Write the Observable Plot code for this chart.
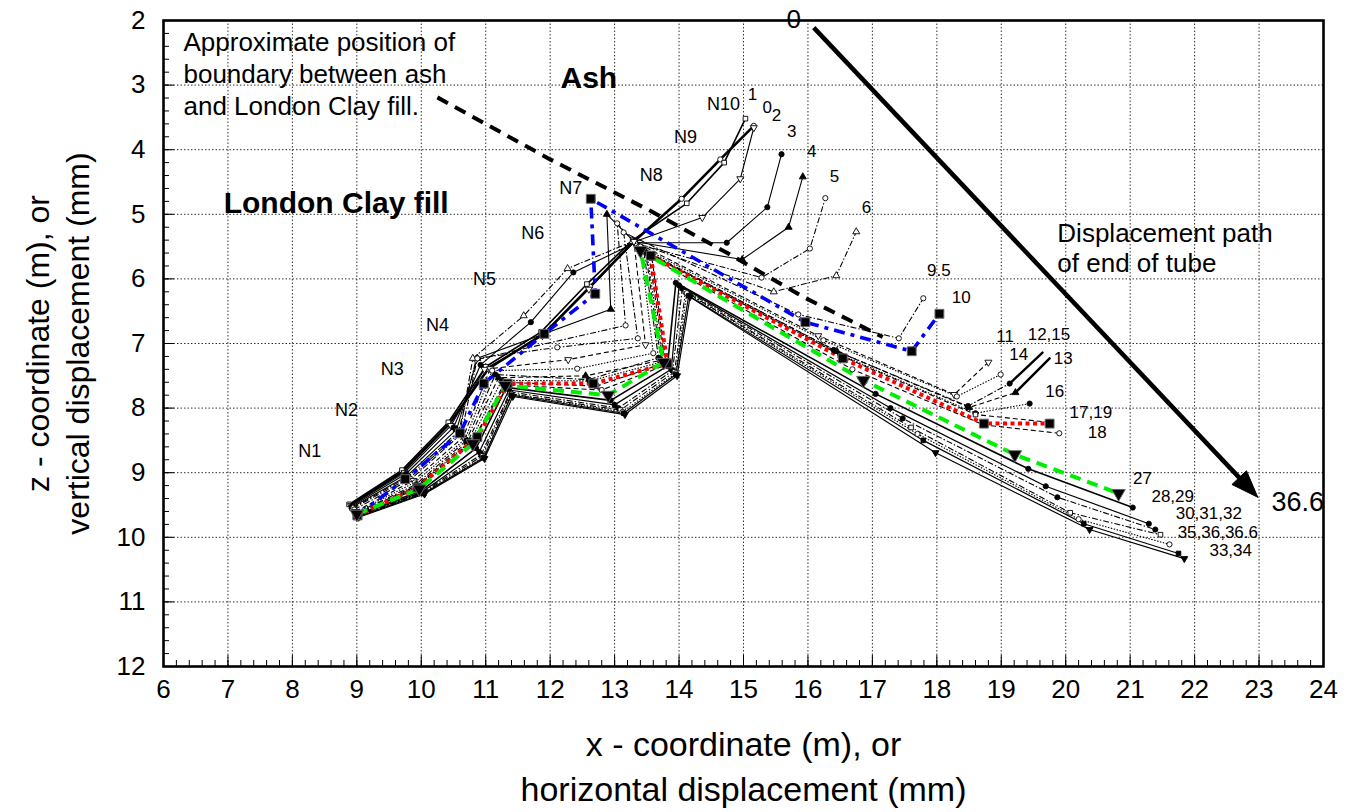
<!DOCTYPE html>
<html><head><meta charset="utf-8">
<script src="https://cdn.jsdelivr.net/npm/d3@7"></script>
<script src="https://cdn.jsdelivr.net/npm/@observablehq/plot@0.6"></script>
<style>body{margin:0;background:#fff;}</style>
</head><body><div id="chart"></div>
<script>
// ---------- profile data: node N1..N10 positions (x, z) for each reading ----------
const t0_x = [8.90,9.72,10.44,11.04,11.90,12.62,13.30,14.04,14.64,15.16];
const t0_z = [9.50,8.98,8.24,7.39,6.85,6.12,5.42,4.76,4.15,3.63];
const t1_x = [8.88,9.70,10.42,11.00,11.86,12.57,13.28,14.12,14.70,15.03];
const t1_z = [9.49,8.96,8.22,7.36,6.82,6.08,5.40,4.83,4.20,3.52];
const t2_x = [8.91,9.74,10.46,10.98,11.88,12.60,13.30,14.36,14.95,15.16];
const t2_z = [9.51,9.00,8.27,7.40,6.88,6.16,5.43,5.05,4.45,3.66];
const t3_x = [8.92,9.76,10.50,10.92,11.70,12.36,13.32,14.74,15.37,15.59];
const t3_z = [9.52,9.02,8.30,7.33,6.67,5.90,5.44,5.44,4.89,4.07];
const t4_x = [8.93,9.78,10.55,10.87,12.94,12.88,13.30,14.98,15.70,15.92];
const t4_z = [9.53,9.05,8.33,7.23,6.47,5.00,5.42,5.70,5.20,4.42];
const t5_x = [8.94,9.80,10.58,10.85,13.17,13.04,13.32,15.28,16.03,16.27];
const t5_z = [9.54,9.06,8.36,7.25,6.72,5.14,5.45,5.98,5.53,4.75];
const t6_x = [8.94,9.82,10.60,10.80,11.59,12.27,13.28,15.47,16.44,16.75];
const t6_z = [9.55,9.08,8.38,7.23,6.57,5.84,5.42,6.20,5.95,5.27];
const t9_5_x = [8.96,9.84,10.62,10.87,12.11,13.36,13.14,15.85,17.41,17.79];
const t9_5_z = [9.57,9.10,8.40,7.23,7.06,6.92,5.28,6.55,6.92,6.30];
const t10_x = [9.01,9.75,10.60,10.97,11.91,12.70,12.63,15.96,17.61,18.04];
const t10_z = [9.66,9.10,8.39,7.62,6.85,6.23,4.76,6.67,7.12,6.54];
const t11_x = [8.98,9.88,10.65,11.07,12.28,13.48,13.30,16.16,18.27,18.80];
const t11_z = [9.60,9.12,8.45,7.39,7.25,7.02,5.42,6.88,7.79,7.29];
const t14_x = [8.99,9.90,10.68,11.10,12.42,13.60,13.40,16.24,18.31,18.99];
const t14_z = [9.61,9.15,8.48,7.42,7.39,7.15,5.50,6.95,7.82,7.48];
const t12_15_x = [9.00,9.92,10.70,11.15,12.60,13.68,13.45,16.40,18.48,19.13];
const t12_15_z = [9.62,9.18,8.50,7.48,7.56,7.22,5.55,7.10,7.97,7.62];
const t13_x = [9.00,9.93,10.72,11.20,12.55,13.72,13.48,16.45,18.50,19.22];
const t13_z = [9.63,9.20,8.52,7.53,7.50,7.26,5.58,7.12,7.99,7.76];
const t16_x = [9.00,9.93,10.75,11.25,12.62,13.75,13.50,16.50,18.60,19.44];
const t16_z = [9.64,9.21,8.53,7.57,7.58,7.28,5.60,7.17,8.08,7.93];
const t17_x = [9.01,9.94,10.80,11.30,12.72,13.78,13.53,16.54,18.60,19.75];
const t17_z = [9.65,9.22,8.50,7.60,7.66,7.30,5.62,7.20,8.10,8.22];
const t19_x = [9.01,9.94,10.87,11.34,12.67,13.82,13.56,16.54,18.73,19.75];
const t19_z = [9.66,9.23,8.45,7.62,7.62,7.31,5.64,7.23,8.24,8.24];
const t18_x = [9.01,9.95,10.78,11.30,12.80,13.80,13.58,16.69,18.73,19.90];
const t18_z = [9.65,9.24,8.55,7.64,7.72,7.33,5.68,7.40,8.26,8.39];
const t27_x = [9.00,9.97,10.80,11.30,12.90,13.76,13.40,16.86,19.21,20.82];
const t27_z = [9.64,9.25,8.55,7.65,7.80,7.29,5.56,7.57,8.72,9.32];
const t28_x = [9.00,10.00,10.85,11.32,12.94,13.82,13.95,17.05,19.42,21.04];
const t28_z = [9.65,9.28,8.62,7.68,7.88,7.35,6.06,7.78,8.94,9.54];
const t30_x = [9.01,10.01,10.90,11.36,13.00,13.88,14.00,17.28,19.69,21.29];
const t30_z = [9.66,9.30,8.68,7.72,7.95,7.40,6.10,8.00,9.21,9.79];
const t32_x = [9.02,10.02,10.93,11.38,13.06,13.90,14.05,17.47,19.87,21.39];
const t32_z = [9.67,9.30,8.72,7.75,8.00,7.42,6.15,8.16,9.38,9.88];
const t35_x = [9.02,10.03,10.95,11.38,13.09,13.93,14.10,17.60,20.07,21.47];
const t35_z = [9.67,9.31,8.74,7.78,8.03,7.44,6.20,8.30,9.62,9.96];
const t36_x = [9.02,10.03,10.97,11.40,13.12,13.95,14.12,17.70,20.20,21.61];
const t36_z = [9.68,9.32,8.76,7.78,8.06,7.46,6.22,8.40,9.72,10.11];
const t33_x = [9.03,10.04,10.97,11.40,13.14,13.95,14.15,17.79,20.28,21.75];
const t33_z = [9.68,9.32,8.77,7.80,8.08,7.48,6.26,8.50,9.79,10.25];
const t34_x = [9.03,10.05,10.98,11.42,13.16,13.97,14.17,17.98,20.37,21.84];
const t34_z = [9.69,9.33,8.78,7.82,8.10,7.50,6.28,8.69,9.88,10.33];

// boundary between ash and London Clay fill
const boundary_x = [10.25,12.00,13.56,14.75,15.93,17.16];
const boundary_z = [3.19,4.15,4.95,5.60,6.28,6.90];
// displacement path of end of tube (start, tip)
const path_x = [16.09,22.98];
const path_z = [2.11,9.38];
// leader lines from labels "12,15" and "13" to their end points
const leader1_x = [19.13,19.64], leader1_z = [7.62,7.14];
const leader2_x = [19.22,19.75], leader2_z = [7.76,7.23];

// tick values
const xTicks = d3.range(6,25);
const yTicks = d3.range(2,13);
const xMinor = d3.range(30,121).map(d => d/5);
const yMinor = d3.range(10,61).map(d => d/5);

// labels
const nodeNames = ["N1","N2","N3","N4","N5","N6","N7","N8","N9","N10"];
const nodeLabelX = [8.27,8.84,9.55,10.25,10.98,11.73,12.32,13.57,14.10,14.69];
const nodeLabelZ = [8.66,8.04,7.40,6.72,6.01,5.30,4.60,4.40,3.81,3.30];
const timeNames = ["1","0","2","3","4","5","6","9.5","10","11","12,15","14","13","16","17,19","18","27","28,29","30,31,32","35,36,36.6","33,34"];
const timeLabelX = [15.14,15.37,15.51,15.75,16.06,16.41,16.91,18.03,18.38,19.06,19.74,19.27,19.96,19.83,20.39,20.49,21.19,21.66,22.22,22.36,22.56];
const timeLabelZ = [3.15,3.35,3.47,3.72,4.03,4.41,4.89,5.87,6.29,6.89,6.86,7.17,7.23,7.74,8.07,8.38,9.09,9.37,9.64,9.93,10.21];

// ---------- styles ----------
const DASH = "5,3", DOT = "1.5,1.5", DASHDOT = "6,2,1.5,2";
const profiles = [
  {x:t0_x, z:t0_z, w:2.6, sym:"circle", fill:"white"},
  {x:t1_x, z:t1_z, w:1.6, sym:"square", fill:"white"},
  {x:t2_x, z:t2_z, w:1.1, sym:"triangle", fill:"white", rot:180},
  {x:t3_x, z:t3_z, w:1.1, sym:"circle", fill:"black"},
  {x:t4_x, z:t4_z, w:1.1, sym:"triangle", fill:"black"},
  {x:t5_x, z:t5_z, w:1.1, dash:DASHDOT, sym:"circle", fill:"white"},
  {x:t6_x, z:t6_z, w:1.1, dash:DASHDOT, sym:"triangle", fill:"white"},
  {x:t9_5_x, z:t9_5_z, w:1.1, dash:DASHDOT, sym:"circle", fill:"white"},
  {x:t11_x, z:t11_z, w:1.1, dash:DASH, sym:"triangle", fill:"white", rot:180},
  {x:t14_x, z:t14_z, w:1.1, dash:DOT, sym:"circle", fill:"white"},
  {x:t12_15_x, z:t12_15_z, w:1.1, dash:DASHDOT, sym:"circle", fill:"black"},
  {x:t13_x, z:t13_z, w:1.1, dash:DASH, sym:"triangle", fill:"black"},
  {x:t16_x, z:t16_z, w:1.1, dash:DOT, sym:"circle", fill:"black"},
  {x:t17_x, z:t17_z, w:1.1, dash:DASH, sym:"square", fill:"white"},
  {x:t18_x, z:t18_z, w:1.1, dash:DASH, sym:"circle", fill:"white"},
  {x:t28_x, z:t28_z, w:1.6, sym:"circle", fill:"black"},
  {x:t30_x, z:t30_z, w:1.2, sym:"circle", fill:"black"},
  {x:t32_x, z:t32_z, w:1.1, dash:DASHDOT, sym:"circle", fill:"black"},
  {x:t35_x, z:t35_z, w:1.1, dash:DASHDOT, sym:"square", fill:"white"},
  {x:t36_x, z:t36_z, w:1.1, dash:DOT, sym:"circle", fill:"white"},
  {x:t33_x, z:t33_z, w:1.2, sym:"square", fill:"black"},
  {x:t34_x, z:t34_z, w:1.2, sym:"triangle", fill:"black", rot:180}
];
const colored = [
  {x:t10_x, z:t10_z, color:"#0000ff", w:3.6, dash:"11,6,4,6", sym:"square", rot:0},
  {x:t19_x, z:t19_z, color:"#ff0000", w:4, dash:"4,3.5", sym:"square", rot:0},
  {x:t27_x, z:t27_z, color:"#00ee00", w:4, dash:"11,7", sym:"triangle", rot:180}
];

const rows = (xs, zs) => xs.map((x, i) => ({x, z: zs[i]}));

// ---------- geometry ----------
const W = 1354, H = 812, mL = 163, mR = 31, mT = 20, mB = 146;
const kx = (W - mL - mR) / 18, ky = (H - mT - mB) / 10;
const dxp = (path_x[1]-path_x[0])*kx, dyp = (path_z[1]-path_z[0])*ky;
const len = Math.hypot(dxp, dyp), ux = dxp/len, uy = dyp/len;
const headL = 27, headW = 10;
const bx = path_x[1] - headL*ux/kx, bz = path_z[1] - headL*uy/ky;
const head = [
  {x: path_x[1], z: path_z[1]},
  {x: bx - headW*uy/kx, z: bz + headW*ux/ky},
  {x: bx + headW*uy/kx, z: bz - headW*ux/ky},
  {x: path_x[1], z: path_z[1]}
];
const shaft = [{x: path_x[0], z: path_z[0]}, {x: bx, z: bz}];

const marks = [];
marks.push(Plot.ruleX(d3.range(7,24), {stroke:"#333", strokeWidth:1, strokeDasharray:"1.5,2"}));
marks.push(Plot.ruleY(d3.range(3,12), {stroke:"#333", strokeWidth:1, strokeDasharray:"1.5,2"}));

for (const p of profiles) {
  marks.push(Plot.line(rows(p.x, p.z), {x:"x", y:"z", stroke:"black", strokeWidth:p.w, strokeDasharray:p.dash, strokeLinecap:"butt"}));
}
marks.push(Plot.line(rows(boundary_x, boundary_z), {x:"x", y:"z", stroke:"black", strokeWidth:4, strokeDasharray:"12,8", strokeLinecap:"butt"}));
for (const c of colored) {
  marks.push(Plot.line(rows(c.x, c.z), {x:"x", y:"z", stroke:c.color, strokeWidth:c.w, strokeDasharray:c.dash, strokeLinecap:"butt"}));
}
for (const p of profiles) {
  marks.push(Plot.dot(rows(p.x, p.z), {x:"x", y:"z", symbol:p.sym, r:2.6, fill:p.fill, stroke:"black", strokeWidth:0.9, rotate:p.rot || 0}));
}
for (const c of colored) {
  marks.push(Plot.dot(rows(c.x, c.z), {x:"x", y:"z", symbol:c.sym, r:5, fill:"black", stroke:"#666", strokeWidth:1, rotate:c.rot}));
}
// leader lines
marks.push(Plot.line(rows(leader1_x, leader1_z), {x:"x", y:"z", stroke:"black", strokeWidth:2.4}));
marks.push(Plot.line(rows(leader2_x, leader2_z), {x:"x", y:"z", stroke:"black", strokeWidth:2.4}));
// displacement path arrow
marks.push(Plot.line(shaft, {x:"x", y:"z", stroke:"black", strokeWidth:4.5, strokeLinecap:"butt"}));
marks.push(Plot.line(head, {x:"x", y:"z", stroke:"black", strokeWidth:1, fill:"black"}));

// axes
marks.push(Plot.axisX(xMinor, {tickSize:-6, tickFormat:() => "", label:null}));
marks.push(Plot.axisX(xTicks, {tickSize:-11, tickFormat:() => "", label:null}));
marks.push(Plot.axisX(xTicks, {tickSize:0, tickPadding:13, fontSize:26, tickFormat:d3.format("d"), label:null}));
marks.push(Plot.axisY(yMinor, {tickSize:-6, tickFormat:() => "", label:null}));
marks.push(Plot.axisY(yTicks, {tickSize:-11, tickFormat:() => "", label:null}));
marks.push(Plot.axisY(yTicks, {tickSize:0, tickPadding:18, fontSize:26, tickFormat:d3.format("d"), label:null}));
marks.push(Plot.frame({stroke:"black", strokeWidth:2.6}));

// labels
marks.push(Plot.text(nodeNames.map((t,i) => ({t, x:nodeLabelX[i], z:nodeLabelZ[i]})), {x:"x", y:"z", text:"t", fontSize:18, fill:"black"}));
marks.push(Plot.text(timeNames.map((t,i) => ({t, x:timeLabelX[i], z:timeLabelZ[i]})), {x:"x", y:"z", text:"t", fontSize:17, fill:"black"}));
const notes = [
  {t:"Approximate position of", x:6.31, z:2.34, a:"start", s:26},
  {t:"boundary between ash", x:6.31, z:2.84, a:"start", s:26},
  {t:"and London Clay fill.", x:6.31, z:3.33, a:"start", s:26},
  {t:"Displacement path", x:19.87, z:5.30, a:"start", s:26},
  {t:"of end of tube", x:19.87, z:5.77, a:"start", s:26},
  {t:"0", x:15.78, z:1.98, a:"middle", s:26},
  {t:"36.6", x:23.60, z:9.46, a:"middle", s:27},
];
for (const n of notes) {
  marks.push(Plot.text([n], {x:"x", y:"z", text:"t", textAnchor:n.a, fontSize:n.s, fill:"black"}));
}
marks.push(Plot.text([{t:"Ash", x:12.60, z:2.90}], {x:"x", y:"z", text:"t", fontSize:30, fontWeight:"bold", fill:"black"}));
marks.push(Plot.text([{t:"London Clay fill", x:8.68, z:4.83}], {x:"x", y:"z", text:"t", fontSize:30, fontWeight:"bold", fill:"black"}));
// axis titles
marks.push(Plot.text([{t:"x - coordinate (m), or", x:15.0, z:13.22}, {t:"horizontal displacement (mm)", x:15.0, z:13.92}], {x:"x", y:"z", text:"t", fontSize:34, fill:"black"}));
marks.push(Plot.text([{t:"z - coordinate (m), or", x:4.06, z:7.0}, {t:"vertical displacement (mm)", x:4.68, z:7.0}], {x:"x", y:"z", text:"t", fontSize:32, rotate:-90, fill:"black"}));

const chart = Plot.plot({
  width: W, height: H,
  marginLeft: mL, marginRight: mR, marginTop: mT, marginBottom: mB,
  x: {domain:[6,24]},
  y: {domain:[2,12], reverse:true},
  style: {fontFamily:"'Liberation Sans', Arial, sans-serif", background:"white", color:"black"},
  marks
});
document.getElementById("chart").appendChild(chart);
</script></body></html>
